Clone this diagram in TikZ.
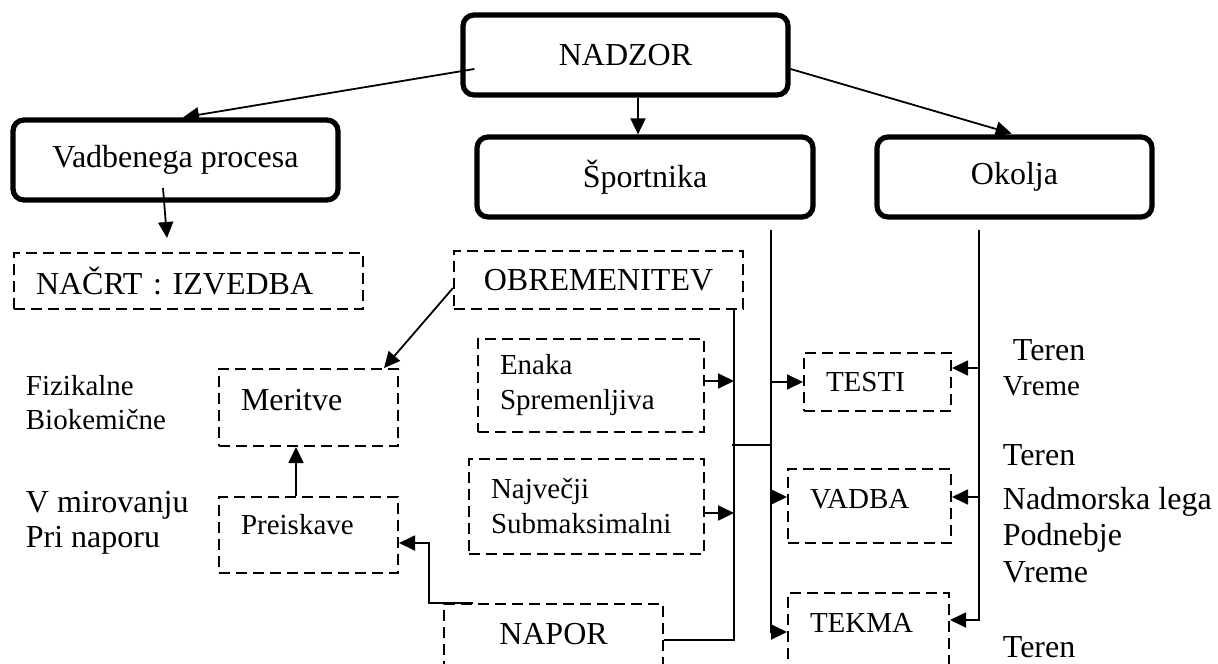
\documentclass[tikz,border=0pt]{standalone}
\usepackage{fontspec}
\setmainfont{Liberation Serif}
\usetikzlibrary{arrows.meta}
\newcommand{\bigtxt}{\fontsize{16}{17.5}\selectfont}
\newcommand{\smtxt}{\fontsize{14.5}{17.5}\selectfont}

\begin{document}
\begin{tikzpicture}[x=0.5pt,y=-0.5pt,line width=0.9pt,>={Triangle[length=8pt,width=7.5pt]},
  rbox/.style={draw,line width=2.6pt,rounded corners=5.5pt,minimum height=40pt,font=\bigtxt},
  dbox/.style={draw,line width=1pt,dash pattern=on 5.5pt off 3pt,anchor=north west,
               align=left,inner xsep=11pt,font=\smtxt},
  lbl/.style={anchor=base west,inner sep=0pt,font=\bigtxt}]
  \useasboundingbox (0,0) rectangle (1218,663);
  % top level
  \node[rbox,minimum width=162.5pt] (nadzor) at (625.5,55) {NADZOR};
  \node[rbox,minimum width=162.5pt] (vadb) at (175.5,160) {Vadbenega procesa};
  \node[rbox,minimum width=168pt] (sport) at (645,177) {Športnika};
  \node[rbox,minimum width=137.5pt] (okolje) at (1014.5,177) {Okolja};
  % dashed boxes
  \node[dbox,font=\bigtxt,text width=152.5pt,minimum height=28pt] (nacrt) at (13,252) {NAČRT : IZVEDBA};
  \node[dbox,font=\bigtxt,align=center,text width=122.5pt,minimum height=29pt] (obrem) at (453,250) {OBREMENITEV};
  \node[dbox,font=\bigtxt,text width=67.5pt,minimum height=38.5pt,text depth=7.5pt] (meritve) at (218,368) {Meritve};
  \node[dbox,text width=67.5pt,minimum height=38pt,text depth=10.3pt] (preisk) at (218,496) {Preiskave};
  \node[dbox,text width=91pt,minimum height=46.5pt] (enaka) at (477,338) {Enaka\\Spremenljiva};
  \node[dbox,text width=95.5pt,minimum height=47.5pt] (najv) at (468,458) {Največji\\Submaksimalni};
  \node[dbox,font=\bigtxt,align=center,text width=87.5pt,inner ysep=9.7pt,text depth=20pt] (napor) at (443,603) {NAPOR};
  \node[dbox,text width=51.5pt,minimum height=29pt] (testi) at (803,352) {TESTI};
  \node[dbox,text width=59.5pt,minimum height=37pt,text depth=7pt] (vadba) at (787,468) {VADBA};
  \node[dbox,text width=58.5pt,inner ysep=10pt,text depth=20pt] (tekma) at (787,592) {TEKMA};
  % arrows from NADZOR
  \draw[->] ([xshift=7pt,yshift=-7pt]nadzor.west) -- ([xshift=3.75pt]vadb.north);
  \draw[->] ([xshift=6.25pt]nadzor.south) -- ([xshift=6.25pt]nadzor.south |- sport.north);
  \draw[->,shorten >=1.5pt] ([yshift=-7pt]nadzor.east) -- (okolje.north);
  \draw[->] ([xshift=-6.25pt,yshift=-14pt]vadb.center) -- ([xshift=-10.75pt,yshift=7pt]nacrt.north);
  % left branch
  \draw[->] ([yshift=-4pt]obrem.west) -- ([xshift=-7.5pt]meritve.north east);
  \draw[->] ([xshift=-6.25pt]preisk.north) -- ([xshift=-6.25pt]meritve.south);
  \draw[->] ([xshift=15pt]napor.north west) -- ++(-22pt,0) |- ([yshift=-4pt]preisk.east);
  % trunk lines
  \coordinate (trunkA) at ([xshift=-5pt]obrem.south east);
  \coordinate (trunkB) at ([xshift=-22.5pt,yshift=-5pt]sport.south east);
  \coordinate (trunkC) at ([xshift=-17.75pt,yshift=-5pt]okolje.south);
  \coordinate (join) at (732,445);
  \draw (trunkA) |- ([yshift=-18.5pt]napor.north east);
  \draw[->] ([yshift=2.25pt]enaka.east) -- ([yshift=2.25pt]enaka.east -| trunkA);
  \draw[->] ([yshift=-3.25pt]najv.east) -- ([yshift=-3.25pt]najv.east -| trunkA);
  \draw (join) -- (join -| trunkB);
  \draw[->] (trunkB) |- (testi.west);
  \draw[->] (trunkB) |- ([yshift=4.5pt]vadba.west);
  \draw[->] (trunkB) |- ([yshift=-20pt]tekma.north west);
  \draw[->] (trunkC) |- ([yshift=7pt]testi.east);
  \draw[->] (trunkC) |- ([yshift=4.5pt]vadba.east);
  \draw[->] (trunkC) |- ([yshift=-14pt]tekma.north east);
  % side labels
  \foreach \t/\x/\y/\f [count=\i] in {Fizikalne/25/395/\smtxt, Biokemične/25/429/\smtxt,
      V mirovanju/25/512/\bigtxt, Pri naporu/25/547/\bigtxt}
    \node[lbl,font=\f] (left\i) at (\x,\y) {\t};
  \foreach \t/\x/\y/\f [count=\i] in {Teren/1012/360/\bigtxt, Vreme/1002/395/\smtxt,
      Teren/1002/465/\bigtxt, Nadmorska lega/1002/509/\bigtxt, Podnebje/1002/545/\bigtxt,
      Vreme/1002/582/\bigtxt, Teren/1002/657/\bigtxt}
    \node[lbl,font=\f] (right\i) at (\x,\y) {\t};
\end{tikzpicture}
\end{document}
